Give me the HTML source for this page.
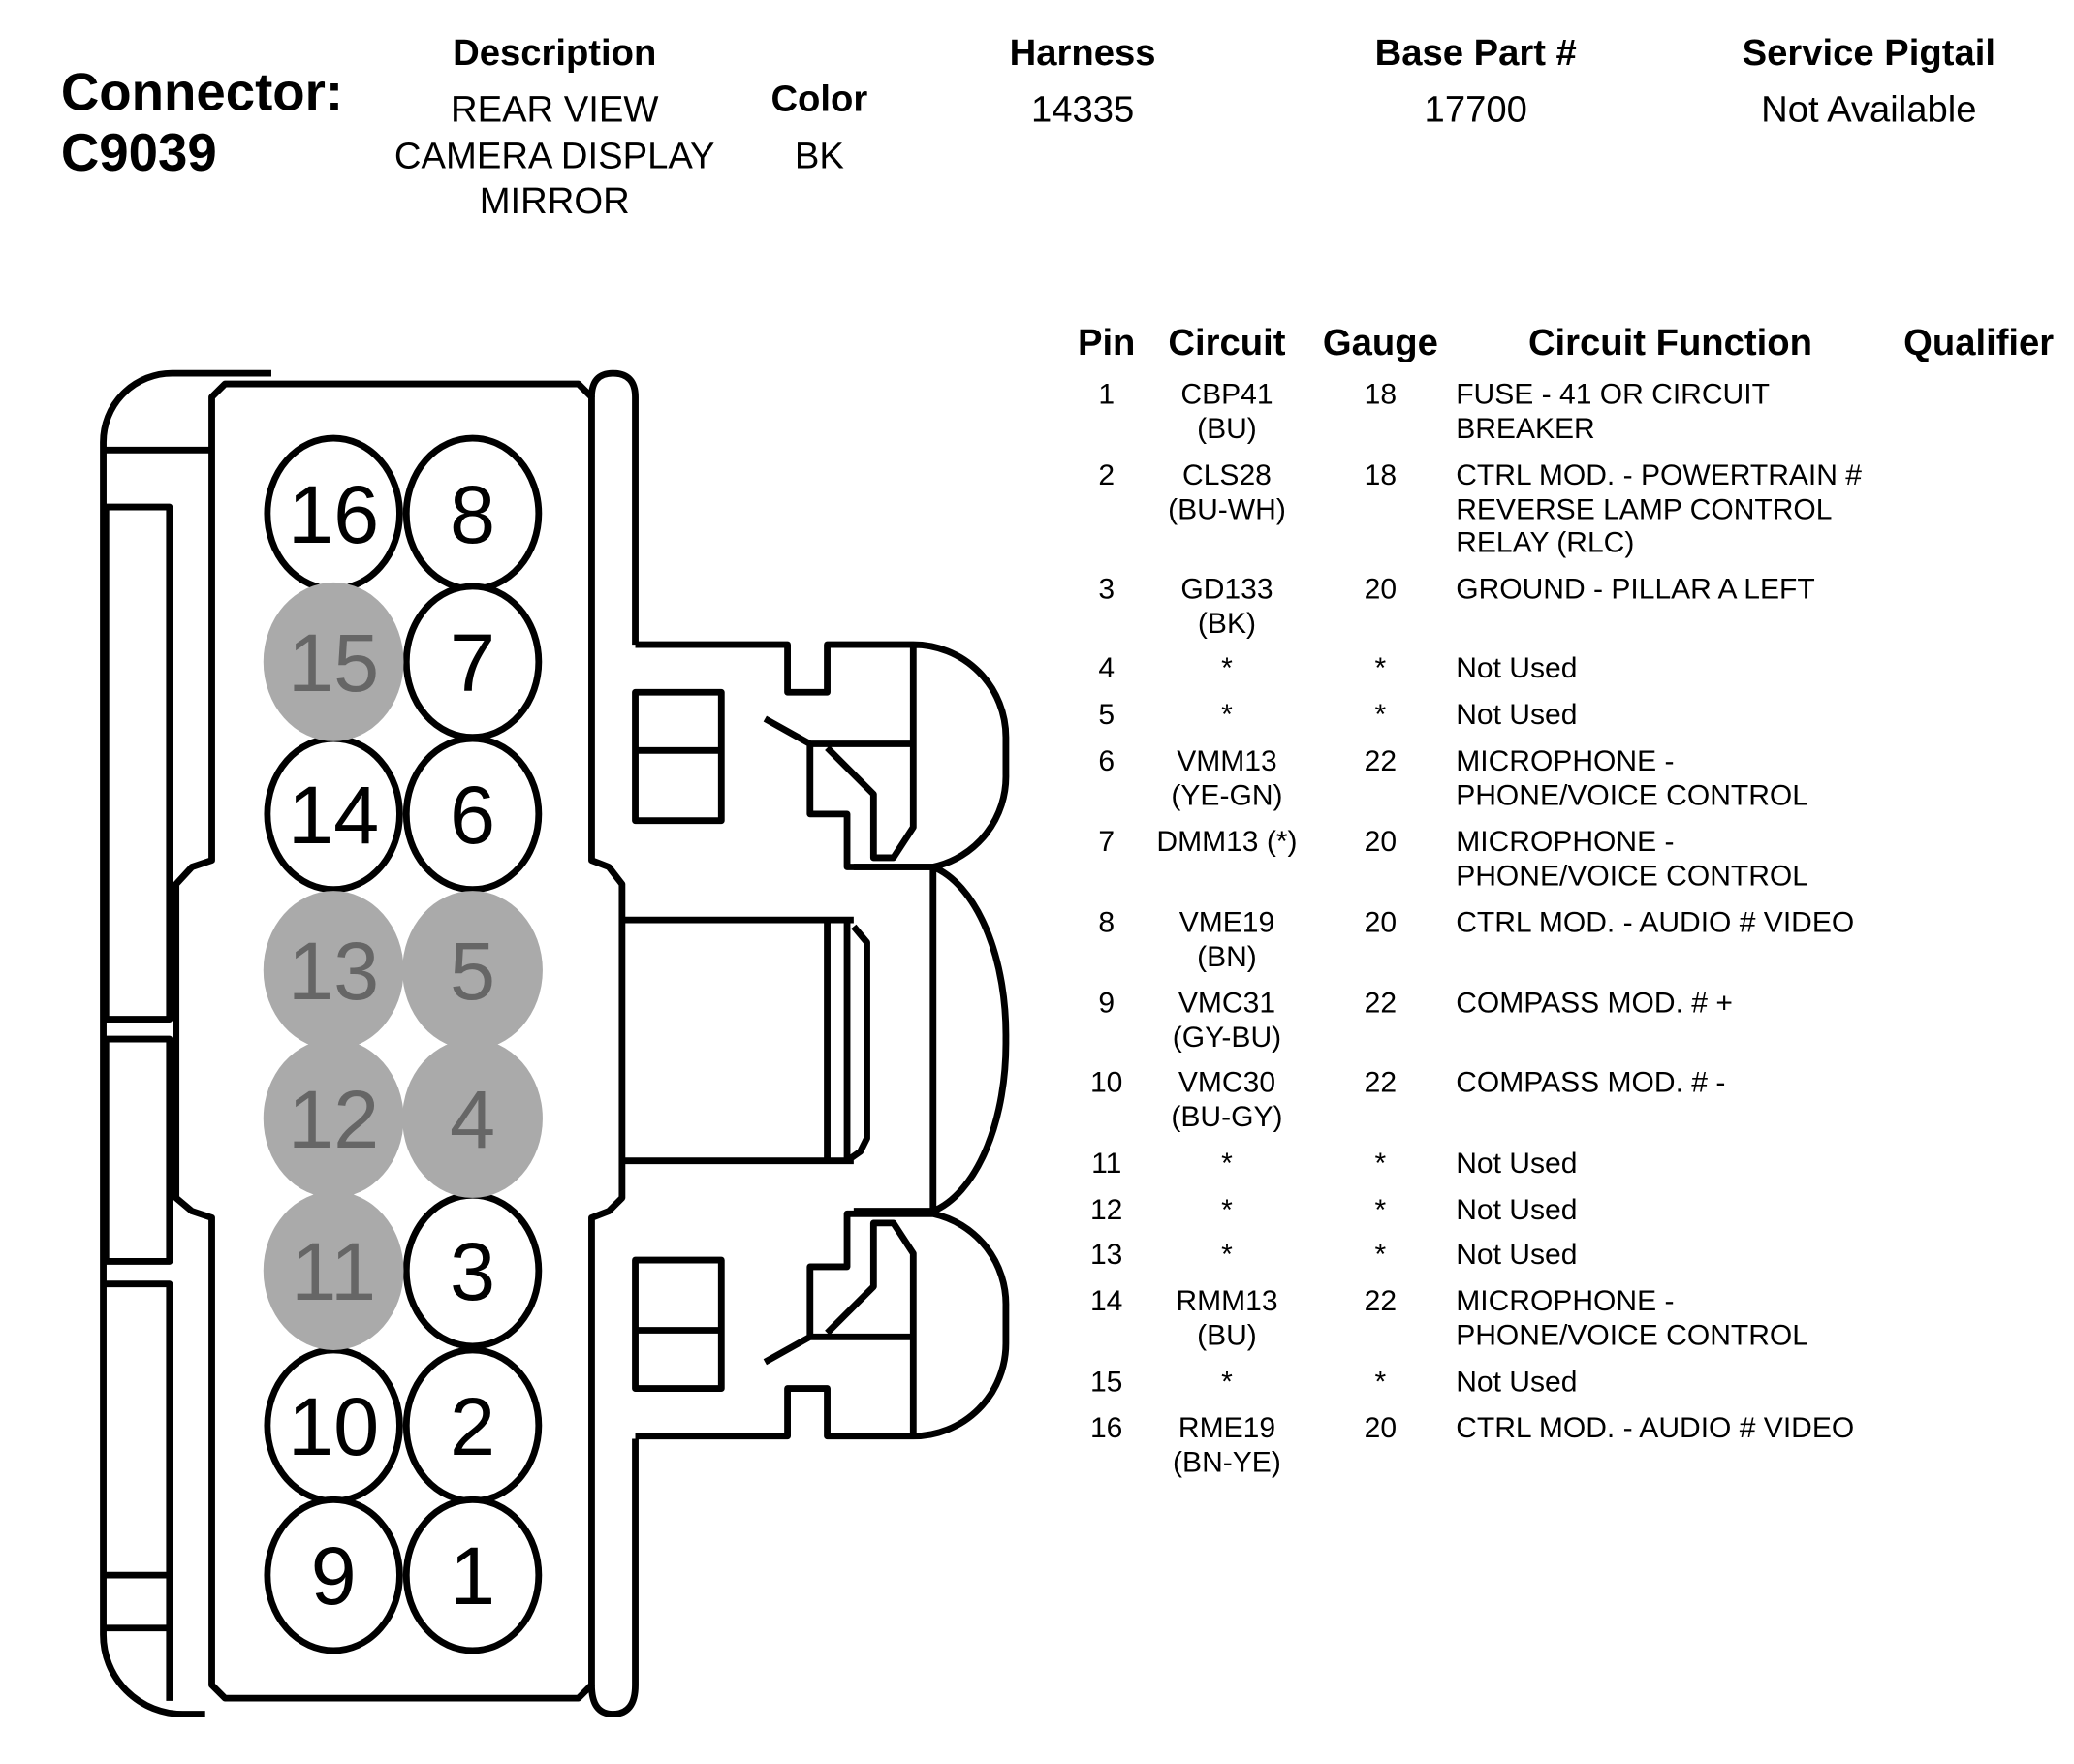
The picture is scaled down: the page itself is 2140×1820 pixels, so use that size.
<!DOCTYPE html>
<html><head><style>
html,body{margin:0;padding:0;background:#fff;}
svg{display:block;}
text{font-family:"Liberation Sans",Arial,sans-serif;}
</style></head><body>
<svg width="2140" height="1820" viewBox="0 0 1567 1332.7" xmlns="http://www.w3.org/2000/svg">
<rect width="1567" height="1333" fill="#fff"/>
<!-- header -->
<g fill="#000">
<text x="46" y="83" font-size="40" font-weight="bold">Connector:</text>
<text x="46" y="129" font-size="40" font-weight="bold">C9039</text>
<g text-anchor="middle">
<text x="419" y="49" font-size="28" font-weight="bold">Description</text>
<text x="419" y="92" font-size="28">REAR VIEW</text>
<text x="419" y="127" font-size="28">CAMERA DISPLAY</text>
<text x="419" y="161" font-size="28">MIRROR</text>
<text x="619" y="84" font-size="28" font-weight="bold">Color</text>
<text x="619" y="127" font-size="28">BK</text>
<text x="818" y="49" font-size="28" font-weight="bold">Harness</text>
<text x="818" y="92" font-size="28">14335</text>
<text x="1115" y="49" font-size="28" font-weight="bold">Base Part #</text>
<text x="1115" y="92" font-size="28">17700</text>
<text x="1412" y="49" font-size="28" font-weight="bold">Service Pigtail</text>
<text x="1412" y="92" font-size="28">Not Available</text>
</g>
</g>
<!-- connector -->
<g fill="none" stroke="#000" stroke-width="5" stroke-linejoin="round">
<path d="M205,282 L130,282 A52,52 0 0 0 78,334 L78,1235 A60,60 0 0 0 138,1295 L155,1295"/>
<path d="M78,340 L160,340"/>
<rect x="80" y="383" width="48" height="387"/>
<rect x="80" y="785" width="48" height="168"/>
<path d="M80,970 L128,970 L128,1285 M80,1190 L128,1190 M80,1230 L128,1230"/>
<path d="M170,290 L437,290 L447,300 L447,650 L460,655 L470,668 L470,905 L460,915 L447,920 L447,1273 L437,1283 L170,1283 L160,1273 L160,920 L145,915 L133,905 L133,668 L145,655 L160,650 L160,300 Z"/>
<path d="M447,300 Q447,282 463,282 Q480,282 480,300 L480,487 M480,1087 L480,1273 Q480,1295 463,1295 Q447,1295 447,1273"/>
<path d="M470,695 L645,695 M470,877 L645,877 M625,695 L625,877 M640,695 L640,877 L650,870 L655,860 L655,712 L645,700"/>
<path d="M645,655 L705,655 A70,130 0 0 1 760,785 A70,130 0 0 1 705,915 L645,915 M705,655 L705,915"/>
<g id="latch">
<path d="M480,487 L595,487 L595,523 L625,523 L625,487 L690,487 A70,70 0 0 1 760,557 L760,585 A70,70 0 0 1 705,655 L645,655 L640,655 L640,615 L612,615 L612,562 L690,562 M690,487 L690,625 L675,648 L660,648 L660,600 L625,565 M578,543 L612,562"/>
<rect x="480" y="523" width="65" height="97"/>
<path d="M480,567 L545,567"/>
</g>
<use href="#latch" transform="translate(0,1572) scale(1,-1)"/>
</g>
<!-- pins -->
<g font-size="62" text-anchor="middle">
<g stroke="#000" stroke-width="5" fill="#fff">
<ellipse cx="252" cy="388" rx="50" ry="57"/><ellipse cx="357" cy="388" rx="50" ry="57"/>
<ellipse cx="357" cy="500" rx="50" ry="57"/>
<ellipse cx="252" cy="615" rx="50" ry="57"/><ellipse cx="357" cy="615" rx="50" ry="57"/>
<ellipse cx="357" cy="960" rx="50" ry="57"/>
<ellipse cx="252" cy="1077" rx="50" ry="57"/><ellipse cx="357" cy="1077" rx="50" ry="57"/>
<ellipse cx="252" cy="1190" rx="50" ry="57"/><ellipse cx="357" cy="1190" rx="50" ry="57"/>
</g>
<g fill="#aaa">
<ellipse cx="252" cy="500" rx="53" ry="60"/>
<ellipse cx="252" cy="733" rx="53" ry="60"/><ellipse cx="357" cy="733" rx="53" ry="60"/>
<ellipse cx="252" cy="845" rx="53" ry="60"/><ellipse cx="357" cy="845" rx="53" ry="60"/>
<ellipse cx="252" cy="960" rx="53" ry="60"/>
</g>
<g fill="#000">
<text x="252" y="410">16</text><text x="357" y="410">8</text>
<text x="357" y="522">7</text>
<text x="252" y="637">14</text><text x="357" y="637">6</text>
<text x="357" y="982">3</text>
<text x="252" y="1099">10</text><text x="357" y="1099">2</text>
<text x="252" y="1212">9</text><text x="357" y="1212">1</text>
</g>
<g fill="#666">
<text x="252" y="522">15</text>
<text x="252" y="755">13</text><text x="357" y="755">5</text>
<text x="252" y="867">12</text><text x="357" y="867">4</text>
<text x="252" y="982">11</text>
</g>
</g>
<!-- table -->
<g font-size="28" font-weight="bold" text-anchor="middle">
<text x="836" y="268">Pin</text><text x="927" y="268">Circuit</text><text x="1043" y="268">Gauge</text>
<text x="1262" y="268">Circuit Function</text><text x="1495" y="268">Qualifier</text>
</g>
<g font-size="22">
<g text-anchor="middle">
<text x="836" y="305">1</text><text x="927" y="305">CBP41</text><text x="927" y="331">(BU)</text><text x="1043" y="305">18</text>
<text x="836" y="366">2</text><text x="927" y="366">CLS28</text><text x="927" y="392">(BU-WH)</text><text x="1043" y="366">18</text>
<text x="836" y="452">3</text><text x="927" y="452">GD133</text><text x="927" y="478">(BK)</text><text x="1043" y="452">20</text>
<text x="836" y="512">4</text><text x="927" y="512">*</text><text x="1043" y="512">*</text>
<text x="836" y="547">5</text><text x="927" y="547">*</text><text x="1043" y="547">*</text>
<text x="836" y="582">6</text><text x="927" y="582">VMM13</text><text x="927" y="608">(YE-GN)</text><text x="1043" y="582">22</text>
<text x="836" y="643">7</text><text x="927" y="643">DMM13 (*)</text><text x="1043" y="643">20</text>
<text x="836" y="704">8</text><text x="927" y="704">VME19</text><text x="927" y="730">(BN)</text><text x="1043" y="704">20</text>
<text x="836" y="765">9</text><text x="927" y="765">VMC31</text><text x="927" y="791">(GY-BU)</text><text x="1043" y="765">22</text>
<text x="836" y="825">10</text><text x="927" y="825">VMC30</text><text x="927" y="851">(BU-GY)</text><text x="1043" y="825">22</text>
<text x="836" y="886">11</text><text x="927" y="886">*</text><text x="1043" y="886">*</text>
<text x="836" y="921">12</text><text x="927" y="921">*</text><text x="1043" y="921">*</text>
<text x="836" y="955">13</text><text x="927" y="955">*</text><text x="1043" y="955">*</text>
<text x="836" y="990">14</text><text x="927" y="990">RMM13</text><text x="927" y="1016">(BU)</text><text x="1043" y="990">22</text>
<text x="836" y="1051">15</text><text x="927" y="1051">*</text><text x="1043" y="1051">*</text>
<text x="836" y="1086">16</text><text x="927" y="1086">RME19</text><text x="927" y="1112">(BN-YE)</text><text x="1043" y="1086">20</text>
</g>
<g>
<text x="1100" y="305">FUSE - 41 OR CIRCUIT</text><text x="1100" y="331">BREAKER</text>
<text x="1100" y="366">CTRL MOD. - POWERTRAIN #</text><text x="1100" y="392">REVERSE LAMP CONTROL</text><text x="1100" y="417">RELAY (RLC)</text>
<text x="1100" y="452">GROUND - PILLAR A LEFT</text>
<text x="1100" y="512">Not Used</text>
<text x="1100" y="547">Not Used</text>
<text x="1100" y="582">MICROPHONE -</text><text x="1100" y="608">PHONE/VOICE CONTROL</text>
<text x="1100" y="643">MICROPHONE -</text><text x="1100" y="669">PHONE/VOICE CONTROL</text>
<text x="1100" y="704">CTRL MOD. - AUDIO # VIDEO</text>
<text x="1100" y="765">COMPASS MOD. # +</text>
<text x="1100" y="825">COMPASS MOD. # -</text>
<text x="1100" y="886">Not Used</text>
<text x="1100" y="921">Not Used</text>
<text x="1100" y="955">Not Used</text>
<text x="1100" y="990">MICROPHONE -</text><text x="1100" y="1016">PHONE/VOICE CONTROL</text>
<text x="1100" y="1051">Not Used</text>
<text x="1100" y="1086">CTRL MOD. - AUDIO # VIDEO</text>
</g>
</g>
</svg>
</body></html>
